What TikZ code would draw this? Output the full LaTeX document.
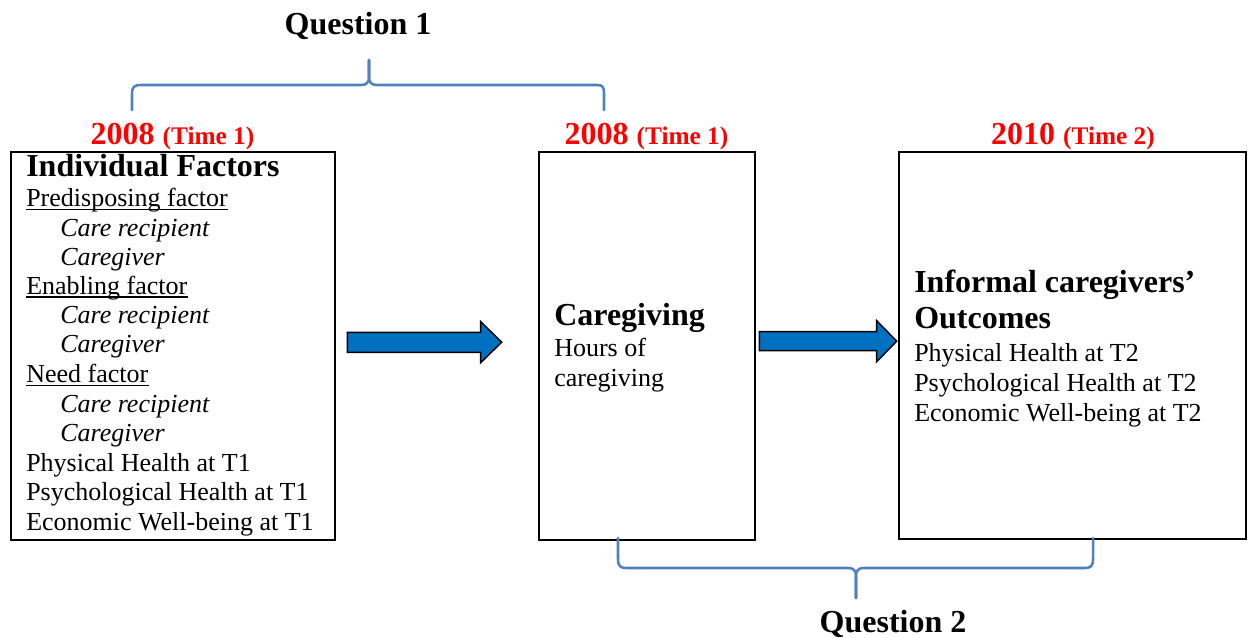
\documentclass[tikz,border=0pt]{standalone}
\usepackage{fontspec}
\setmainfont{Liberation Serif}
\usetikzlibrary{fit}
\definecolor{qred}{HTML}{FF0000}
\definecolor{bracec}{HTML}{4F81BD}
\definecolor{arrowc}{HTML}{0070C0}
\begin{document}
\begin{tikzpicture}[x=0.75pt,y=-0.75pt,
  txt/.style={anchor=base west, inner sep=0pt, font=\fontsize{19.5}{22}\selectfont},
  itx/.style={anchor=base west, inner sep=0pt, font=\fontsize{19.5}{22}\selectfont\itshape},
  hd/.style={anchor=base west, inner sep=0pt, font=\fontsize{24}{28}\selectfont\bfseries},
  box/.style={draw, line width=1.5pt, inner sep=0pt},
  brace/.style={draw=bracec, line width=1.9pt, line join=round, line cap=round},
  blockarrow/.style={fill=arrowc, draw=black, line width=1.1pt, line join=miter},
  yr/.style={anchor=base, inner sep=0pt, text=qred, font=\bfseries},
  qlabel/.style={anchor=base, inner sep=0pt, font=\fontsize{24}{28}\selectfont\bfseries},
  ul/.style={line width=1.1pt}]
\useasboundingbox (0,0) rectangle (1248,638);

% boxes
\coordinate (b1nw) at (10.5,152.5);
\coordinate (b1se) at (335,539.5);
\node[box, fit=(b1nw)(b1se)] (b1) {};
\coordinate (b2nw) at (539,152.5);
\coordinate (b2se) at (755,539.5);
\node[box, fit=(b2nw)(b2se)] (b2) {};
\coordinate (b3nw) at (899,152.5);
\coordinate (b3se) at (1246,539);
\node[box, fit=(b3nw)(b3se)] (b3) {};

% year headings
\node[yr] (y1) at (172.5,145) {{\fontsize{24}{28}\selectfont 2008 }{\fontsize{19}{22}\selectfont (Time 1)}};
\node[yr] (y2) at (646.5,145) {{\fontsize{24}{28}\selectfont 2008 }{\fontsize{19}{22}\selectfont (Time 1)}};
\node[yr] (y3) at (1073,145) {{\fontsize{24}{28}\selectfont 2010 }{\fontsize{19}{22}\selectfont (Time 2)}};

% question labels
\node[qlabel] (q1) at (358,35) {Question 1};
\node[qlabel] (q2) at (893,632) {Question 2};

% box 1 text
\node[hd] (if) at (26,176) {Individual Factors};
\node[txt] (pre) at (26,206.7) {Predisposing factor};
\draw[ul] ([yshift=-2pt]pre.base west) -- ([yshift=-2pt]pre.base east);
\node[itx] (cr1) at (60,236.3) {Care recipient};
\node[itx] (cg1) at (60,265.5) {Caregiver};
\node[txt] (ena) at (26,294.5) {Enabling factor};
\draw[ul] ([yshift=-2pt]ena.base west) -- ([yshift=-2pt]ena.base east);
\node[itx] (cr2) at (60,323.5) {Care recipient};
\node[itx] (cg2) at (60,352.8) {Caregiver};
\node[txt] (need) at (26,382.8) {Need factor};
\draw[ul] ([yshift=-2pt]need.base west) -- ([yshift=-2pt]need.base east);
\node[itx] (cr3) at (60,412) {Care recipient};
\node[itx] (cg3) at (60,441.5) {Caregiver};
\node[txt] (ph1) at (26,471) {Physical Health at T1};
\node[txt] (ps1) at (26,500.7) {Psychological Health at T1};
\node[txt] (ec1) at (26,530) {Economic Well-being at T1};

% box 2 text
\node[hd] (cgv) at (554,325) {Caregiving};
\node[txt] (hrs) at (554,356.7) {Hours of};
\node[txt] (hrs2) at (554,386.7) {caregiving};

% box 3 text
\node[hd] (inf) at (914,292.7) {Informal caregivers’};
\node[hd] (out) at (914,328) {Outcomes};
\node[txt] (ph2) at (914,361) {Physical Health at T2};
\node[txt] (ps2) at (914,391) {Psychological Health at T2};
\node[txt] (ec2) at (914,421.7) {Economic Well-being at T2};

% block arrows
\coordinate (a1) at (347.3,342.3);
\draw[blockarrow] (a1) ++(0,-10) -- ++(133.4,0) -- ++(0,-10.6) -- (501.7,342.2) -- (480.7,362.7) -- (480.7,352.3) -- (347.3,352.3) -- cycle;
\coordinate (a2) at (759.3,341.2);
\draw[blockarrow] (a2) ++(0,-9.5) -- ++(117.4,0) -- ++(0,-11) -- (896.7,341.2) -- (876.7,361.7) -- (876.7,350.7) -- (759.3,350.7) -- cycle;

% brace 1 (top)
\coordinate (br1l) at (132,110);
\coordinate (br1t) at (369,60);
\coordinate (br1r) at (604,110);
\draw[brace] (br1l) -- (132,94) .. controls (132,87) and (134,85) .. (141,85) -- (361,85) .. controls (366,85) and (369,83) .. (369,77) -- (br1t);
\draw[brace] (br1t) -- (369,77) .. controls (369,83) and (372,85) .. (377,85) -- (597,85) .. controls (603,85) and (604,87) .. (604,94) -- (br1r);

% brace 2 (bottom)
\coordinate (br2l) at (618,538);
\coordinate (br2t) at (856,598);
\coordinate (br2r) at (1093,538);
\draw[brace] (br2l) -- (618,559) .. controls (618,566) and (620,568) .. (627,568) -- (848,568) .. controls (853,568) and (856,570) .. (856,576) -- (br2t);
\draw[brace] (br2t) -- (856,576) .. controls (856,570) and (859,568) .. (864,568) -- (1084,568) .. controls (1091,568) and (1093,566) .. (1093,559) -- (br2r);
\end{tikzpicture}
\end{document}
